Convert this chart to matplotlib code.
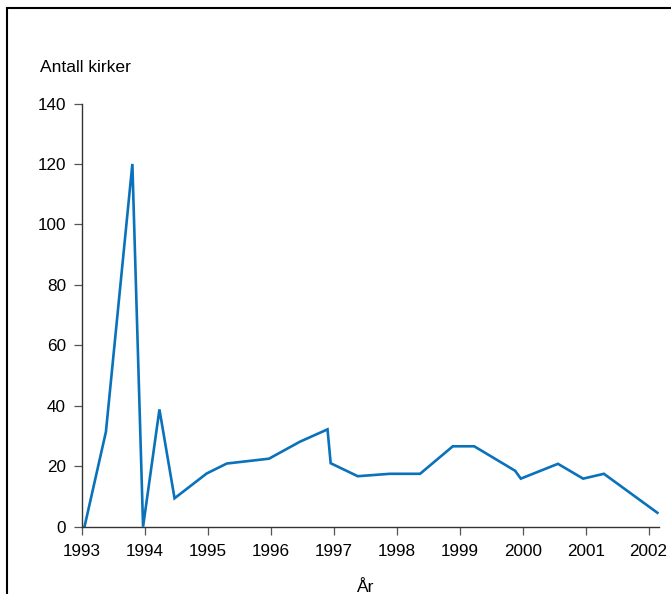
import matplotlib
matplotlib.use('Agg')
import matplotlib.pyplot as plt
from matplotlib.patches import Rectangle

plt.rcParams['font.family'] = ['Liberation Sans', 'DejaVu Sans']

# number of churches per period
years = [1993.04, 1993.38, 1993.80, 1993.97, 1994.23, 1994.47, 1994.98,
         1995.30, 1995.97, 1996.46, 1996.90, 1996.95, 1997.38, 1997.89,
         1998.37, 1998.89, 1999.23, 1999.88, 1999.97, 2000.56, 2000.96,
         2001.29, 2002.14]
kirker = [0, 31.4, 120, 0, 38.8, 9.4, 17.6,
          20.9, 22.5, 28.1, 32.2, 21.0, 16.7, 17.5,
          17.5, 26.6, 26.6, 18.5, 15.9, 20.8, 15.9,
          17.5, 4.6]
xticks = list(range(1993, 2003))
yticks = list(range(0, 141, 20))

fig = plt.figure(figsize=(6.71, 5.94), dpi=100)
ax = fig.add_axes([82 / 671, 67.3 / 594, 577.3 / 671, 423.2 / 594])

ax.plot(years, kirker, color='#0a72ba', lw=1.9, solid_joinstyle='miter')
ax.set_xlim(1993, 2002.17)
ax.set_ylim(0, 140)
ax.set_xticks(xticks)
ax.set_yticks(yticks)
ax.tick_params(labelsize=12.3, length=6, width=0.9, color='#555555')
ax.tick_params(axis='x', pad=6.5)
ax.tick_params(axis='y', pad=5.5)

for s in ['top', 'right']:
    ax.spines[s].set_visible(False)
for s in ['left', 'bottom']:
    ax.spines[s].set_linewidth(1.0)
    ax.spines[s].set_color('#333333')
ax.patch.set_visible(False)

fig.text(40 / 671, 1 - 67 / 594, 'Antall kirker', fontsize=12.6,
         ha='left', va='center')
fig.text(365 / 671, 1 - 587 / 594, 'År', fontsize=12.6,
         ha='center', va='center')

# frame around the figure (left and top edge visible)
fig.add_artist(Rectangle((7 / 671, -0.1), 1.2, 1.1 - 8.5 / 594,
                         transform=fig.transFigure, fill=False,
                         lw=1.5, edgecolor='black'))

fig.savefig('out.png', dpi=100)
